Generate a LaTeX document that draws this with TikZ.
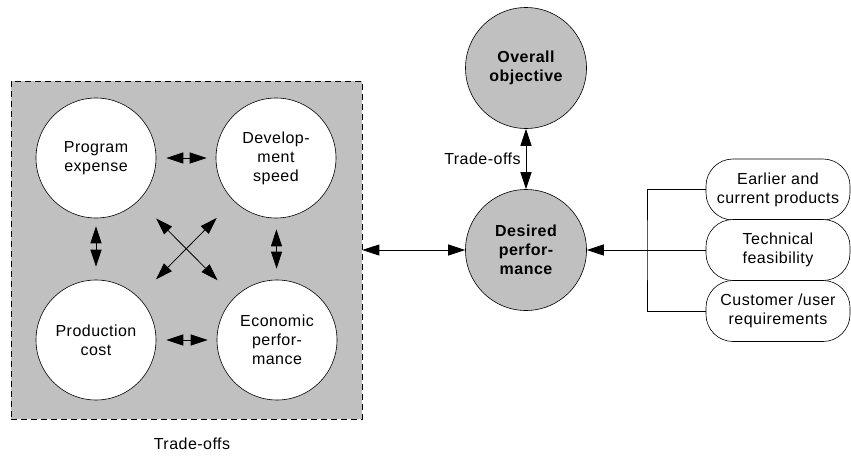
\documentclass[tikz,border=0pt]{standalone}
\usepackage{fontspec}
\setmainfont{Liberation Sans}[LetterSpace=3]
\usetikzlibrary{arrows.meta}
\definecolor{panelgray}{RGB}{192,192,192}
\begin{document}
\begin{tikzpicture}[x=1pt,y=-1pt,
  every node/.style={font=\fontsize{16}{19}\selectfont, align=center},
  link/.style={line width=0.8pt, {Triangle[length=17pt,width=11pt]}-{Triangle[length=17pt,width=11pt]}},
  feed/.style={line width=0.8pt, -{Triangle[length=17pt,width=11pt]}},
  plain/.style={line width=0.6pt},
  factor/.style={circle, draw, line width=0.6pt, fill=white, minimum size=120pt, inner sep=0pt},
  goal/.style={circle, draw, line width=0.6pt, fill=panelgray, minimum size=121pt, inner sep=0pt, font=\fontsize{16}{19}\selectfont\bfseries},
  source/.style={draw, line width=0.6pt, fill=white, rounded corners=27pt, minimum width=144pt, minimum height=61pt, inner sep=0pt},
  panel/.style={draw, fill=panelgray, line width=0.7pt, dash pattern=on 6pt off 4pt, minimum width=351pt, minimum height=338pt, inner sep=0pt}
]
\useasboundingbox (0,0) rectangle (851,455);

% trade-off panel with the four competing factors
\node[panel] (panel) at (186.5,250) {};
\node[factor] (pe) at (96,158)  {Program\\expense};
\node[factor] (ds) at (276,158) {Develop-\\ment\\speed};
\node[factor] (pc) at (96,340)  {Production\\cost};
\node[factor] (ep) at (277,340) {Economic\\perfor-\\mance};
\node (panellabel) at (192,444) {Trade-offs};

\draw[link, shorten <=10pt, shorten >=9pt] (pe) -- (ds);
\draw[link, shorten <=10pt, shorten >=9pt] (pc) -- (ep);
\draw[link, shorten <=8pt, shorten >=13pt] (pe) -- (pc);
\draw[link, shorten <=11pt, shorten >=11pt] (ds) -- (ep);
\draw[link, shorten <=25pt, shorten >=24pt] (pe) -- (ep);
\draw[link, shorten <=24pt, shorten >=25pt] (ds) -- (pc);

% goals
\node[goal] (oo) at (526,68)  {Overall\\objective};
\node[goal] (dp) at (526,250) {Desired\\perfor-\\mance};
\draw[link] (oo) -- node[left, inner sep=5pt] {Trade-offs} (dp);
\draw[link] (panel.east) -- (dp.west);

% inputs to the desired performance
\node[source] (ecp) at (778,189.5) {Earlier and\\current products};
\node[source] (tf)  at (778,250)   {Technical\\feasibility};
\node[source] (cur) at (778,311)   {Customer /user\\requirements};
\coordinate (j) at (647,250);
\draw[plain] (ecp.west) -| (j) |- (cur.west);
\draw[feed] (tf.west) -- (dp.east);
\end{tikzpicture}
\end{document}
